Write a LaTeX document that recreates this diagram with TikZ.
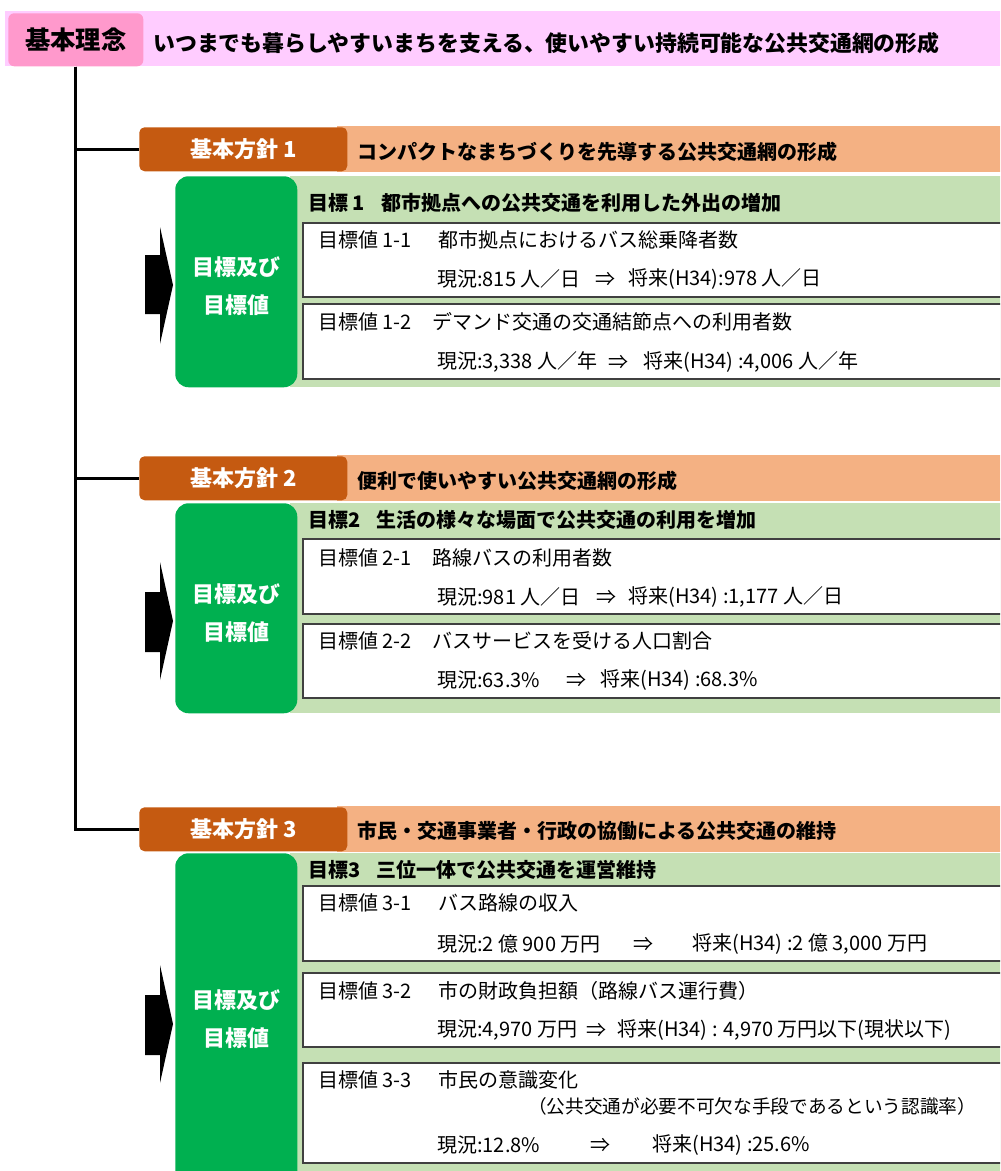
\documentclass[tikz,border=0pt]{standalone}
\usepackage{fontspec}
\setmainfont{Noto Sans CJK JP}
\definecolor{rinenpink}{RGB}{255,153,204}
\definecolor{bandpink}{RGB}{255,204,255}
\definecolor{hoshindark}{RGB}{197,90,17}
\definecolor{hoshinlight}{RGB}{244,177,131}
\definecolor{goalgreen}{RGB}{0,176,80}
\definecolor{goallight}{RGB}{197,224,180}

\begin{document}
\begin{tikzpicture}[x=0.75pt,y=0.75pt,yscale=-1,xscale=1,
  rinenbox/.style={fill=rinenpink, rounded corners=4.5pt, minimum width=101.25pt, minimum height=39.75pt, inner sep=0pt, anchor=north west, font=\bfseries\fontsize{19}{22}\selectfont},
  hoshinbox/.style={fill=hoshindark, text=white, rounded corners=4pt, minimum width=156pt, minimum height=33pt, inner sep=0pt, anchor=north west, font=\bfseries\fontsize{16.5}{20}\selectfont},
  goalbox/.style={fill=goalgreen, rounded corners=10pt, minimum width=91.5pt, inner sep=0pt, anchor=north west},
  goaltxt/.style={text=white, align=center, inner sep=0pt, font=\bfseries\fontsize{16.5}{28.5}\selectfont},
  headtxt/.style={anchor=west, inner sep=0pt, font=\bfseries\fontsize{16.4}{19}\selectfont},
  boldtxt/.style={anchor=west, inner sep=0pt, font=\bfseries\fontsize{15}{18}\selectfont},
  valtxt/.style={anchor=west, inner sep=0pt, font=\fontsize{15}{18}\selectfont},
  valbox/.style={draw=black!75, line width=1.1pt, fill=white},
  tree/.style={line width=2.25pt}]
\useasboundingbox (0,0) rectangle (1000,1171);
\clip (0,0) rectangle (1000,1171);

%Shape: Rectangle [bands]
\fill[bandpink] (5,11) rectangle (1010,66);
\fill[hoshinlight] (337,126) rectangle (1010,172);
\fill[hoshinlight] (337,455) rectangle (1010,501);
\fill[hoshinlight] (337,806) rectangle (1010,852);
\fill[goallight] (290,176) rectangle (1010,387);
\fill[goallight] (290,503) rectangle (1010,713);
\fill[goallight] (290,853) rectangle (1010,1185);

%Shape: Rectangle [value boxes]
\draw[valbox] (303,223) rectangle (1010,297);
\draw[valbox] (303,304) rectangle (1010,379);
\draw[valbox] (303,539) rectangle (1010,614);
\draw[valbox] (303,624) rectangle (1010,698);
\draw[valbox] (303,886) rectangle (1010,961);
\draw[valbox] (303,973) rectangle (1010,1047);
\draw[valbox] (303,1063) rectangle (1010,1163);

%Basic idea
\node[rinenbox] (rinen) at (8,13) {基本理念};
\node[headtxt] (rinentxt) at (153,43) {いつまでも暮らしやすいまちを支える、使いやすい持続可能な公共交通網の形成};

%Policies
\node[hoshinbox] (hoshin1) at (139,127) {基本方針 1};
\node[hoshinbox] (hoshin2) at (139,456) {基本方針 2};
\node[hoshinbox] (hoshin3) at (139,807) {基本方針 3};
\node[boldtxt] (hoshin1txt) at (357,152) {コンパクトなまちづくりを先導する公共交通網の形成};
\node[boldtxt] (hoshin2txt) at (357,481) {便利で使いやすい公共交通網の形成};
\node[boldtxt] (hoshin3txt) at (357,831) {市民・交通事業者・行政の協働による公共交通の維持};

%Straight Lines [tree]
\draw[tree] (rinen.south) |- (hoshin1.west);
\draw[tree] (rinen.south) |- (hoshin2.west);
\draw[tree] (rinen.south) |- (hoshin3.west);

%Goal boxes
\node[goalbox, minimum height=158.25pt] (goal1) at (175,176) {};
\node[goalbox, minimum height=157.5pt] (goal2) at (175,503) {};
\node[goalbox, minimum height=249pt] (goal3) at (175,853) {};
\node[goaltxt] (goal1txt) at (236,286) {目標及び\\目標値};
\node[goaltxt] (goal2txt) at (236,613) {目標及び\\目標値};
\node[goaltxt] (goal3txt) at (236,1019) {目標及び\\目標値};

%Shape: Arrows
\fill (145,255) -- (160,255) -- (160,227) -- (173,285) -- (160,344) -- (160,314) -- (145,314) -- cycle;
\fill (145,592) -- (160,592) -- (160,562) -- (173,621) -- (160,680) -- (160,652) -- (145,652) -- cycle;
\fill (145,995) -- (160,995) -- (160,965) -- (173,1024) -- (160,1083) -- (160,1055) -- (145,1055) -- cycle;

%Goal 1
\node[boldtxt] (t1) at (308,203) {目標 1\hspace{0.8em}都市拠点への公共交通を利用した外出の増加};
\node[valtxt] (v11a) at (318,240) {目標値 1-1};
\node[valtxt] (v11b) at (438,240) {都市拠点におけるバス総乗降者数};
\node[valtxt] (v11c) at (437,279) {現況:815 人／日};
\node[valtxt] (v11d) at (595,279) {⇒};
\node[valtxt] (v11e) at (628,279) {将来(H34):978 人／日};
\node[valtxt] (v12a) at (318,322) {目標値 1-2};
\node[valtxt] (v12b) at (432,322) {デマンド交通の交通結節点への利用者数};
\node[valtxt] (v12c) at (437,362) {現況:3,338 人／年};
\node[valtxt] (v12d) at (608,362) {⇒};
\node[valtxt] (v12e) at (643,362) {将来(H34) :4,006 人／年};

%Goal 2
\node[boldtxt] (t2) at (308,520) {目標2\hspace{0.8em}生活の様々な場面で公共交通の利用を増加};
\node[valtxt] (v21a) at (318,558) {目標値 2-1};
\node[valtxt] (v21b) at (432,558) {路線バスの利用者数};
\node[valtxt] (v21c) at (437,597) {現況:981 人／日};
\node[valtxt] (v21d) at (596,597) {⇒};
\node[valtxt] (v21e) at (628,597) {将来(H34) :1,177 人／日};
\node[valtxt] (v22a) at (318,641) {目標値 2-2};
\node[valtxt] (v22b) at (432,641) {バスサービスを受ける人口割合};
\node[valtxt] (v22c) at (437,680) {現況:63.3\%};
\node[valtxt] (v22d) at (566,680) {⇒};
\node[valtxt] (v22e) at (600,680) {将来(H34) :68.3\%};

%Goal 3
\node[boldtxt] (t3) at (308,870) {目標3\hspace{0.8em}三位一体で公共交通を運営維持};
\node[valtxt] (v31a) at (318,903) {目標値 3-1};
\node[valtxt] (v31b) at (438,903) {バス路線の収入};
\node[valtxt] (v31c) at (437,944) {現況:2 億 900 万円};
\node[valtxt] (v31d) at (633,944) {⇒};
\node[valtxt] (v31e) at (692,944) {将来(H34) :2 億 3,000 万円};
\node[valtxt] (v32a) at (318,991) {目標値 3-2};
\node[valtxt] (v32b) at (438,991) {市の財政負担額（路線バス運行費）};
\node[valtxt] (v32c) at (437,1030) {現況:4,970 万円};
\node[valtxt] (v32d) at (586,1030) {⇒};
\node[valtxt] (v32e) at (617,1030) {将来(H34) : 4,970 万円以下(現状以下)};
\node[valtxt] (v33a) at (318,1080) {目標値 3-3};
\node[valtxt] (v33b) at (438,1080) {市民の意識変化};
\node[valtxt, font=\fontsize{14}{17}\selectfont] (v33c) at (528,1106) {（公共交通が必要不可欠な手段であるという認識率）};
\node[valtxt] (v33d) at (437,1145) {現況:12.8\%};
\node[valtxt] (v33e) at (590,1145) {⇒};
\node[valtxt] (v33f) at (652,1145) {将来(H34) :25.6\%};

\end{tikzpicture}
\end{document}
